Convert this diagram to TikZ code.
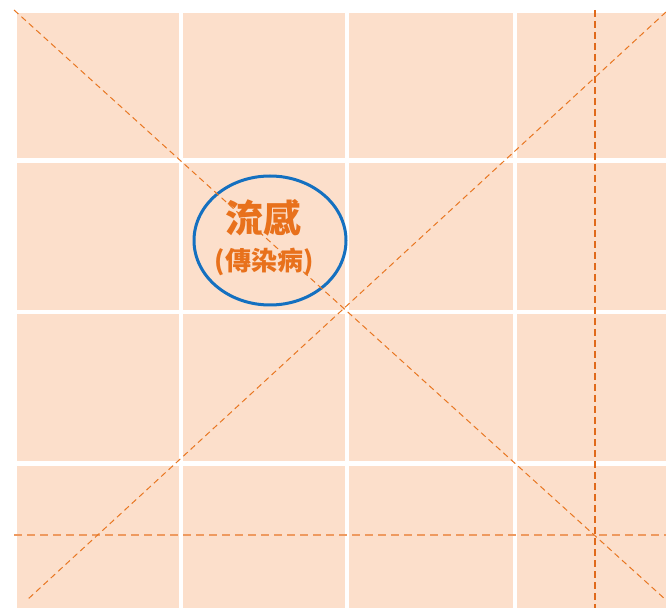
\documentclass[tikz,border=0pt]{standalone}
\usepackage{fontspec}
\newfontfamily\cjk{Noto Sans CJK TC}
\usetikzlibrary{shapes.geometric}
\definecolor{peach}{HTML}{FCDFCB}
\definecolor{txtorange}{HTML}{E8711C}
\definecolor{diagorange}{HTML}{E87722}
\definecolor{vorange}{HTML}{E06A1B}
\definecolor{horange}{HTML}{EE9A60}
\definecolor{ringblue}{HTML}{1470C0}
\tikzset{
  gridline/.style={white, line width=4.7pt},
  diagline/.style={diagorange, line width=1pt, dash pattern=on 6pt off 4pt},
  vline/.style={vorange, line width=1.3pt, dash pattern=on 7pt off 4pt},
  hline/.style={horange, line width=1.5pt, dash pattern=on 8pt off 5pt},
  ring/.style={ellipse, draw=ringblue, line width=3pt, minimum width=152pt, minimum height=129pt, inner sep=0pt},
  bigtxt/.style={text=txtorange, font=\cjk\bfseries\fontsize{38pt}{40pt}\selectfont, inner sep=0pt},
  smalltxt/.style={text=txtorange, font=\cjk\bfseries\fontsize{26pt}{28pt}\selectfont, inner sep=0pt}
}
\begin{document}
\begin{tikzpicture}[x=1pt,y=1pt]
\useasboundingbox (0,0) rectangle (666,608);
\fill[peach] (17,0) rectangle (666,595);
% white grid
\foreach \x in {181,347,515} \draw[gridline] (\x,0) -- (\x,595);
\foreach \y in {160.5,312,463.5} \draw[gridline] (17,608-\y) -- (666,608-\y);
% guide lines
\coordinate (d1a) at (14,598);
\coordinate (d1b) at (666,8);
\coordinate (d2a) at (666,596);
\coordinate (d2b) at (27,8);
\coordinate (va) at (595,598);
\coordinate (vb) at (595,0);
\coordinate (ha) at (14,73);
\coordinate (hb) at (666,73);
\draw[hline] (ha) -- (hb);
\draw[vline] (va) -- (vb);
% ellipse and text
\node[ring] (flu) at (270,367.5) {};
\node[bigtxt] (t1) at (263,390) {流感};
\node[smalltxt] (t2) at (264,346) {(傳染病)};
\draw[diagline] (d1a) -- (d1b);
\draw[diagline] (d2a) -- (d2b);
\end{tikzpicture}
\end{document}
